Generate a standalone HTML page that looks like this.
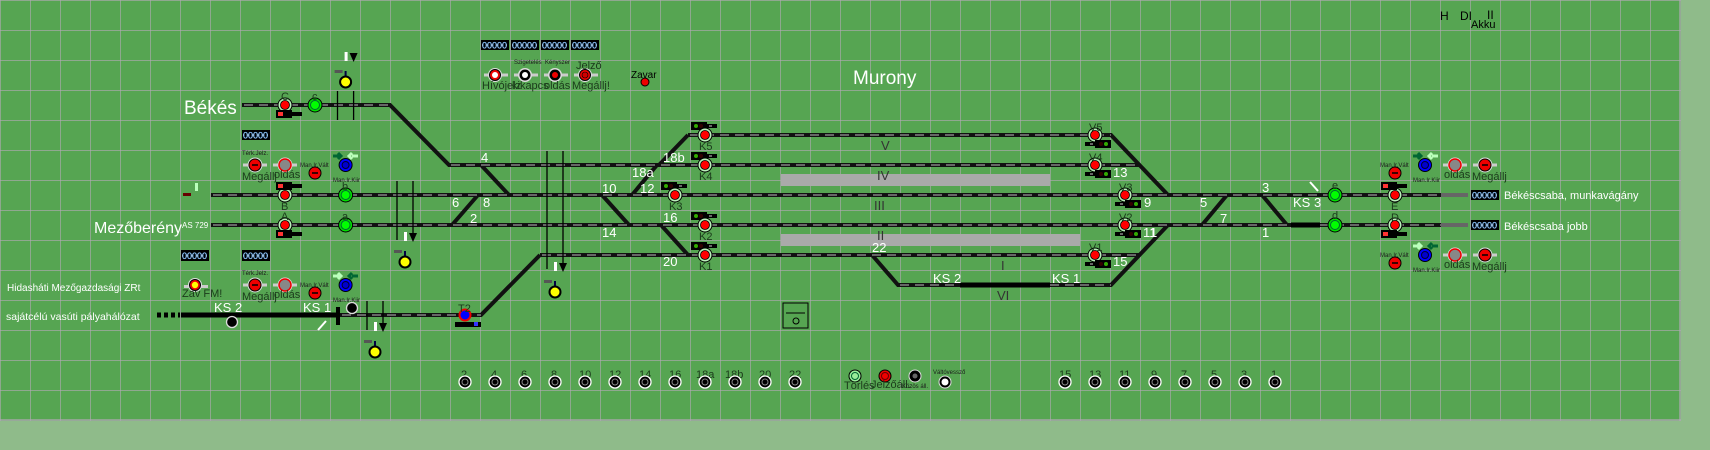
<!DOCTYPE html>
<html><head><meta charset="utf-8"><style>
html,body{margin:0;padding:0;background:#8fbb8a;width:1710px;height:450px;overflow:hidden}
svg{display:block}
text{font-family:"Liberation Sans",sans-serif}
.w{fill:#fff}
.k{fill:#000}
.m{font-family:"Liberation Mono",monospace;fill:#fff;font-size:13px}
.r{font-family:"Liberation Mono",monospace;fill:#333;font-size:13px}
.t{stroke:#111;stroke-width:4;fill:none}
.g{stroke:#666;stroke-width:2;fill:none;stroke-dasharray:9 6}
.th{stroke:#000;stroke-width:5;fill:none}
.sm{font-size:6px;fill:#1b1b1b}
.lb{font-size:11px;fill:#1b3b1b}
.box{fill:#000}
.bt{font-family:"Liberation Sans",sans-serif;font-size:9px;fill:#fff;stroke:#39f;stroke-width:.3}
</style></head><body>
<svg width="1710" height="450" xmlns="http://www.w3.org/2000/svg">
<defs>
<pattern id="grid" width="30" height="30" patternUnits="userSpaceOnUse">
<path d="M0 0H30M0 0V30" stroke="#b2a9b6" stroke-width="1.2" fill="none"/>
</pattern>
<g id="sr"><circle r="7" fill="#b8f0b8" stroke="#000"/><circle r="4.5" fill="#f00" stroke="#000" stroke-width=".8"/></g>
<g id="sg"><circle r="7" fill="#00e000" stroke="#000"/><circle r="4.5" fill="#00ff00" stroke="#063"/></g>
<g id="pm"><rect x="-12" y="-1.5" width="24" height="3" fill="#ccc"/><circle r="7.5" fill="#ddd"/><circle r="6" fill="#e00" stroke="#000"/><line x1="-3" x2="3" stroke="#000" stroke-width="1.5"/></g>
<g id="po"><rect x="-12" y="-1.5" width="24" height="3" fill="#ccc"/><circle r="7.5" fill="#ddd"/><circle r="6" fill="#888" stroke="#e00" stroke-width="1.5"/></g>
<g id="mr"><circle r="6" fill="#e00" stroke="#000"/><line x1="-3" x2="3" stroke="#000" stroke-width="1.5"/></g>
<g id="bl"><circle r="6.5" fill="#00f" stroke="#000"/><circle r="3.5" fill="#00c" stroke="#003"/></g>
<g id="bb"><circle r="6" fill="#000" stroke="#fff" stroke-width="1.3"/><circle r="3" fill="none" stroke="#888"/></g>
<g id="dw"><rect x="0" y="-4" width="16" height="8" fill="#000"/><circle cx="5" r="2" fill="#3a0"/><circle cx="10" r="2" fill="#300"/><rect x="16" y="-2" width="10" height="4" fill="#000"/><rect x="18" y="-1" width="3" height="2" fill="#666"/></g>
<g id="dr"><rect x="0" y="-4" width="16" height="8" fill="#000"/><rect x="2" y="-2" width="5" height="4" fill="#f33"/><rect x="16" y="-2" width="10" height="4" fill="#000"/></g>
<g id="ys"><rect x="-11" y="-12" width="8" height="3" fill="#555"/><rect x="-1" y="-11" width="2" height="5" fill="#004"/><circle r="5.5" fill="#ff0" stroke="#000" stroke-width="2"/><rect x="-1" y="-30" width="3" height="9" fill="#fff"/><path d="M4 -29h8l-4 9z" fill="#000"/></g>
</defs>
<rect x="0" y="0" width="1681" height="421" fill="#56a552"/>
<rect x="0" y="0" width="1681" height="421" fill="url(#grid)"/>
<path d="M1680 0V421M0 420H1681" stroke="#b2a9b6" stroke-width="1.2"/>

<g class="t">
<path d="M242 105H390L449 165H1139"/>
<path d="M211 195H1441"/><path d="M211 225H1291M1320 225H1441"/>
<path d="M540 255H1140"/><path d="M340 315H481L540 255"/>
<path d="M688 135H1111L1168 195"/>
<path d="M688 135L659 165M657 165L632 195M602 195L629 225M661 225L688 255"/>
<path d="M481 165L509 195M478 195L452 225"/>
<path d="M872 255L898 285H960M1050 285H1111L1168 225"/>
<path d="M1227 195L1202 225M1262 195L1287 225"/>
</g>
<g class="g">
<path d="M244 105H390M451 165H1139M213 195H1441M213 225H1291M1320 225H1441M542 255H1140M342 315H481M690 135H1111M900 285H960M1050 285H1111"/>
</g>
<path d="M1441 195H1468M1441 225H1468" stroke="#666" stroke-width="4"/>
<g class="th"><path d="M181 315H340M960 285H1050M1291 225H1320"/></g>
<path d="M157 315H180" stroke="#000" stroke-width="5" stroke-dasharray="4 3"/>

<g stroke="#000" stroke-width="1.3">
<path d="M337.5 91V120M353.6 91V120M397 181V240M413 181V240M547 151V269M563 151V269M367 301V330M383 301V330"/>
</g>

<rect x="781" y="174" width="269" height="12" fill="#aaa"/>
<rect x="781" y="234" width="299" height="12" fill="#aaa"/>

<text x="184" y="114" class="w" font-size="19">Békés</text>
<text x="94" y="233" class="w" font-size="16">Mezőberény</text>
<text x="182" y="228" class="w" font-size="8">AS 729</text>
<text x="853" y="84" class="w" font-size="19">Murony</text>
<text x="7" y="291" class="w" font-size="10">Hidasháti Mezőgazdasági ZRt</text>
<text x="6" y="320" class="w" font-size="10.5">sajátcélú vasúti pályahálózat</text>
<text x="1504" y="199" class="w" font-size="11">Békéscsaba, munkavágány</text>
<text x="1504" y="230" class="w" font-size="11">Békéscsaba jobb</text>
<text x="631" y="78" class="k" font-size="10">Zavar</text>
<circle cx="645" cy="82" r="4" fill="#e00" stroke="#000"/>
<text x="1440" y="20" class="k" font-size="12">H</text>
<text x="1460" y="20" class="k" font-size="12">DI</text>
<text x="1487" y="19" class="k" font-size="12">II</text>
<text x="1471" y="28" class="k" font-size="11">Akku</text>

<g>
<rect x="481" y="40" width="28" height="10" class="box"/><text x="482" y="48.5" class="bt">00000</text>
<rect x="511" y="40" width="28" height="10" class="box"/><text x="512" y="48.5" class="bt">00000</text>
<rect x="541" y="40" width="28" height="10" class="box"/><text x="542" y="48.5" class="bt">00000</text>
<rect x="571" y="40" width="28" height="10" class="box"/><text x="572" y="48.5" class="bt">00000</text>
<rect x="242" y="130" width="28" height="10" class="box"/><text x="243" y="138.5" class="bt">00000</text>
<rect x="181" y="250" width="28" height="11" class="box"/><text x="182" y="259" class="bt">00000</text>
<rect x="242" y="250" width="28" height="11" class="box"/><text x="243" y="259" class="bt">00000</text>
<rect x="1471" y="190" width="28" height="10" class="box"/><text x="1472" y="198.5" class="bt">00000</text>
<rect x="1471" y="220" width="28" height="10" class="box"/><text x="1472" y="228.5" class="bt">00000</text>
</g>

<g>
<rect x="484" y="73.5" width="24" height="3" fill="#ccc"/><circle cx="495" cy="75" r="7" fill="#ddd"/><circle cx="495" cy="75" r="5.5" fill="#e00" stroke="#000"/><circle cx="495" cy="75" r="3" fill="#fff"/>
<rect x="514" y="73.5" width="24" height="3" fill="#ccc"/><circle cx="525" cy="75" r="7" fill="#ddd"/><circle cx="525" cy="75" r="5.5" fill="#000"/><circle cx="525" cy="75" r="3" fill="#fff"/>
<rect x="544" y="73.5" width="24" height="3" fill="#ccc"/><circle cx="555" cy="75" r="7" fill="#ddd"/><circle cx="555" cy="75" r="5.5" fill="#000"/><circle cx="555" cy="75" r="3" fill="#e00"/>
<rect x="574" y="73.5" width="24" height="3" fill="#ccc"/><circle cx="585" cy="75" r="7" fill="#ddd"/><circle cx="585" cy="75" r="5.5" fill="#e00" stroke="#000"/><circle cx="585" cy="75" r="3" fill="#c00" stroke="#000" stroke-width=".6"/>
<text x="482" y="89" class="lb" font-size="7">Hívójelz</text>
<text x="512" y="89" class="lb" font-size="7">kikapcs</text>
<text x="544" y="89" class="lb" font-size="9">oldás</text>
<text x="572" y="89" class="lb" font-size="6.5">Megállj!</text>
<text x="514" y="64" class="sm" font-size="5">Szigetelés</text>
<text x="545" y="64" class="sm" font-size="5">Kényszer</text>
<text x="576" y="69" class="lb" font-size="9">Jelző</text>
</g>

<g>
<use href="#pm" x="255" y="165"/><use href="#po" x="285" y="165"/><use href="#mr" x="315" y="173"/><use href="#bl" x="345.6" y="165"/>
<text x="242" y="155" class="sm">Térk.Jelz.</text><text x="242" y="180" class="lb" font-size="8.5">Megállj</text>
<text x="274" y="178" class="lb" font-size="9">oldás</text><text x="300" y="167" class="sm" font-size="5">Man.Ir.Vált</text>
<text x="333" y="182" class="sm" font-size="5">Man.Ir.Kiir</text>
<path d="M333 156h6M338 153l3 3-3 3" stroke="#063" stroke-width="3" fill="none"/><path d="M352 156h6M352 153l-3 3 3 3" stroke="#bfb" stroke-width="3" fill="none"/>
<use href="#pm" x="255" y="285"/><use href="#po" x="285" y="285"/><use href="#mr" x="315" y="293"/><use href="#bl" x="345.6" y="285"/>
<text x="242" y="275" class="sm">Térk.Jelz.</text><text x="242" y="300" class="lb" font-size="8.5">Megállj</text>
<text x="274" y="298" class="lb" font-size="9">oldás</text><text x="300" y="287" class="sm" font-size="5">Man.Ir.Vált</text>
<text x="333" y="302" class="sm" font-size="5">Man.Ir.Kiir</text>
<path d="M333 276h6M338 273l3 3-3 3" stroke="#bfb" stroke-width="3" fill="none"/><path d="M352 276h6M352 273l-3 3 3 3" stroke="#063" stroke-width="3" fill="none"/>
<rect x="184" y="285" width="24" height="3" fill="#ccc"/><circle cx="195" cy="285" r="7" fill="#ddd"/><circle cx="195" cy="285" r="5.5" fill="#e00" stroke="#000"/><circle cx="195" cy="285" r="3.2" fill="#ff0"/>
<text x="182" y="297" class="lb" font-size="7">Zav FM!</text>
</g>
<g>
<use href="#mr" x="1395" y="173"/><use href="#bl" x="1425" y="165"/><use href="#po" x="1455" y="165"/><use href="#pm" x="1485" y="165"/>
<text x="1380" y="167" class="sm" font-size="5">Man.Ir.Vált</text><text x="1413" y="182" class="sm" font-size="5">Man.Ir.Kiir</text>
<text x="1444" y="178" class="lb" font-size="9">oldás</text><text x="1472" y="180" class="lb" font-size="8.5">Megállj</text>
<use href="#mr" x="1395" y="263"/><use href="#bl" x="1425" y="255"/><use href="#po" x="1455" y="255"/><use href="#pm" x="1485" y="255"/>
<text x="1380" y="257" class="sm" font-size="5">Man.Ir.Vált</text><text x="1413" y="272" class="sm" font-size="5">Man.Ir.Kiir</text>
<text x="1444" y="268" class="lb" font-size="9">oldás</text><text x="1472" y="270" class="lb" font-size="8.5">Megállj</text>
<path d="M1413 156h6M1418 153l3 3-3 3" stroke="#063" stroke-width="3" fill="none"/><path d="M1432 156h6M1432 153l-3 3 3 3" stroke="#bfb" stroke-width="3" fill="none"/>
<path d="M1413 246h6M1418 243l3 3-3 3" stroke="#bfb" stroke-width="3" fill="none"/><path d="M1432 246h6M1432 243l-3 3 3 3" stroke="#063" stroke-width="3" fill="none"/>
</g>

<g>
<use href="#sr" x="285" y="105"/><use href="#sg" x="315" y="105"/>
<text x="281" y="100" class="lb">C</text><text x="312" y="100" class="lb" font-size="9">c</text>
<use href="#dr" x="276" y="114"/>
<use href="#sr" x="285" y="195"/><use href="#sg" x="345.6" y="195"/>
<text x="281" y="210" class="lb">B</text><text x="342" y="190" class="lb">b</text>
<use href="#dr" x="276" y="186"/>
<use href="#sr" x="285" y="225"/><use href="#sg" x="345.6" y="225"/>
<text x="281" y="220" class="lb">A</text><text x="342" y="220" class="lb">a</text>
<use href="#dr" x="276" y="234"/>
<rect x="183" y="193" width="8" height="3" fill="#600"/><rect x="195" y="183" width="3" height="8" fill="#bfb"/>
<use href="#ys" x="345.6" y="82"/><use href="#ys" x="405" y="262"/><use href="#ys" x="555" y="292"/><use href="#ys" x="375" y="352"/>
<circle cx="465" cy="315" r="5.5" fill="#00f" stroke="#e00" stroke-width="2"/><text x="458" y="312" class="lb">T2</text>
<rect x="455" y="322" width="26" height="5" fill="#000"/><rect x="474" y="322" width="4" height="4" fill="#33f"/>
<use href="#dw" x="691" y="126"/><use href="#sr" x="705" y="135"/><text x="699" y="150" class="lb">K5</text>
<use href="#dw" x="691" y="156"/><use href="#sr" x="705" y="165"/><text x="699" y="180" class="lb">K4</text>
<use href="#dw" x="661" y="186"/><use href="#sr" x="675" y="195"/><text x="669" y="210" class="lb">K3</text>
<use href="#dw" x="691" y="216"/><use href="#sr" x="705" y="225"/><text x="699" y="240" class="lb">K2</text>
<use href="#dw" x="691" y="246"/><use href="#sr" x="705" y="255"/><text x="699" y="270" class="lb">K1</text>
<use href="#sr" x="1095" y="135"/><text x="1089" y="131" class="lb">V5</text><use href="#dw" x="1111" y="144" transform="rotate(180 1111 144)"/>
<use href="#sr" x="1095" y="165"/><text x="1089" y="161" class="lb">V4</text><use href="#dw" x="1111" y="174" transform="rotate(180 1111 174)"/>
<use href="#sr" x="1125" y="195"/><text x="1119" y="191" class="lb">V3</text><use href="#dw" x="1141" y="204" transform="rotate(180 1141 204)"/>
<use href="#sr" x="1125" y="225"/><text x="1119" y="221" class="lb">V2</text><use href="#dw" x="1141" y="234" transform="rotate(180 1141 234)"/>
<use href="#sr" x="1095" y="255"/><text x="1089" y="251" class="lb">V1</text><use href="#dw" x="1111" y="264" transform="rotate(180 1111 264)"/>
<use href="#sg" x="1335" y="195"/><text x="1332" y="189" class="lb">e</text>
<use href="#sg" x="1335" y="225"/><text x="1332" y="219" class="lb">d</text>
<use href="#sr" x="1395" y="195"/><text x="1391" y="210" class="lb">E</text><use href="#dr" x="1381" y="186"/>
<use href="#sr" x="1395" y="225"/><text x="1391" y="221" class="lb">D</text><use href="#dr" x="1381" y="234"/>
<path d="M1310 182l8 9" stroke="#fff" stroke-width="2"/>
<path d="M318 330l8 -9" stroke="#fff" stroke-width="2"/>
</g>

<g class="m">
<text x="481" y="162">4</text><text x="452" y="207">6</text><text x="483" y="207">8</text><text x="470" y="223">2</text>
<text x="602" y="193">10</text><text x="632" y="177">18a</text><text x="640" y="193">12</text><text x="663" y="162">18b</text>
<text x="602" y="237">14</text><text x="663" y="222">16</text><text x="663" y="266">20</text><text x="872" y="252">22</text>
<text x="1113" y="177">13</text><text x="1144" y="207">9</text><text x="1143" y="237">11</text><text x="1113" y="266">15</text>
<text x="1200" y="207">5</text><text x="1262" y="192">3</text><text x="1220" y="223">7</text><text x="1262" y="237">1</text><text x="1150" y="237">1</text>
<text x="214" y="312">KS 2</text><text x="303" y="312">KS 1</text><text x="933" y="283">KS 2</text><text x="1052" y="283">KS 1</text><text x="1293" y="207">KS 3</text>
</g>
<g class="r">
<text x="881" y="150">V</text><text x="877" y="180">IV</text><text x="874" y="210">III</text><text x="877" y="240">II</text><text x="1001" y="270">I</text><text x="997" y="300">VI</text>
</g>
<circle cx="232" cy="322" r="5.5" fill="#000" stroke="#ddd" stroke-width="1.3"/>
<circle cx="352" cy="308" r="5.5" fill="#000" stroke="#ddd" stroke-width="1.3"/>
<rect x="336" y="307" width="4" height="18" fill="#000"/><rect x="330" y="314" width="10" height="3" fill="#000"/>

<rect x="783" y="303" width="25" height="25" fill="none" stroke="#000"/><line x1="786" y1="313" x2="805" y2="313" stroke="#000"/><circle cx="796" cy="321" r="3" fill="none" stroke="#000"/>

<g class="lb">
<text x="461" y="378">2</text><text x="491" y="378">4</text><text x="521" y="378">6</text><text x="551" y="378">8</text><text x="579" y="378">10</text>
<text x="609" y="378">12</text><text x="639" y="378">14</text><text x="669" y="378">16</text><text x="696" y="378">18a</text><text x="725" y="378">18b</text><text x="759" y="378">20</text><text x="789" y="378">22</text>
<text x="1059" y="378">15</text><text x="1089" y="378">13</text><text x="1119" y="378">11</text><text x="1151" y="378">9</text><text x="1181" y="378">7</text><text x="1211" y="378">5</text><text x="1241" y="378">3</text><text x="1271" y="378">1</text>
</g>
<g>
<use href="#bb" x="465" y="382"/><use href="#bb" x="495" y="382"/><use href="#bb" x="525" y="382"/><use href="#bb" x="555" y="382"/><use href="#bb" x="585" y="382"/>
<use href="#bb" x="615" y="382"/><use href="#bb" x="645" y="382"/><use href="#bb" x="675" y="382"/><use href="#bb" x="705" y="382"/><use href="#bb" x="735" y="382"/><use href="#bb" x="765" y="382"/><use href="#bb" x="795" y="382"/>
<use href="#bb" x="1065" y="382"/><use href="#bb" x="1095" y="382"/><use href="#bb" x="1125" y="382"/><use href="#bb" x="1155" y="382"/><use href="#bb" x="1185" y="382"/><use href="#bb" x="1215" y="382"/><use href="#bb" x="1245" y="382"/><use href="#bb" x="1275" y="382"/>
<circle cx="855" cy="376" r="6" fill="#9e9" stroke="#000"/><circle cx="855" cy="376" r="3.5" fill="none" stroke="#063"/>
<circle cx="885" cy="376" r="6" fill="#e00" stroke="#000"/><circle cx="885" cy="376" r="3.5" fill="none" stroke="#600"/>
<circle cx="915" cy="376" r="6" fill="#000" stroke="#ddd"/><circle cx="915" cy="376" r="2.5" fill="#666"/>
<circle cx="945" cy="382" r="6" fill="#000" stroke="#ddd"/><circle cx="945" cy="382" r="3.5" fill="#fff"/>
<text x="844" y="389" class="lb" font-size="9">Törlés</text><text x="871" y="388" class="lb" font-size="7">Jelzőáll.</text>
<text x="902" y="388" class="sm" font-size="5">Közös áll.</text><text x="933" y="374" class="sm" font-size="4.5">Váltóvessző</text>
</g>
</svg>
</body></html>
